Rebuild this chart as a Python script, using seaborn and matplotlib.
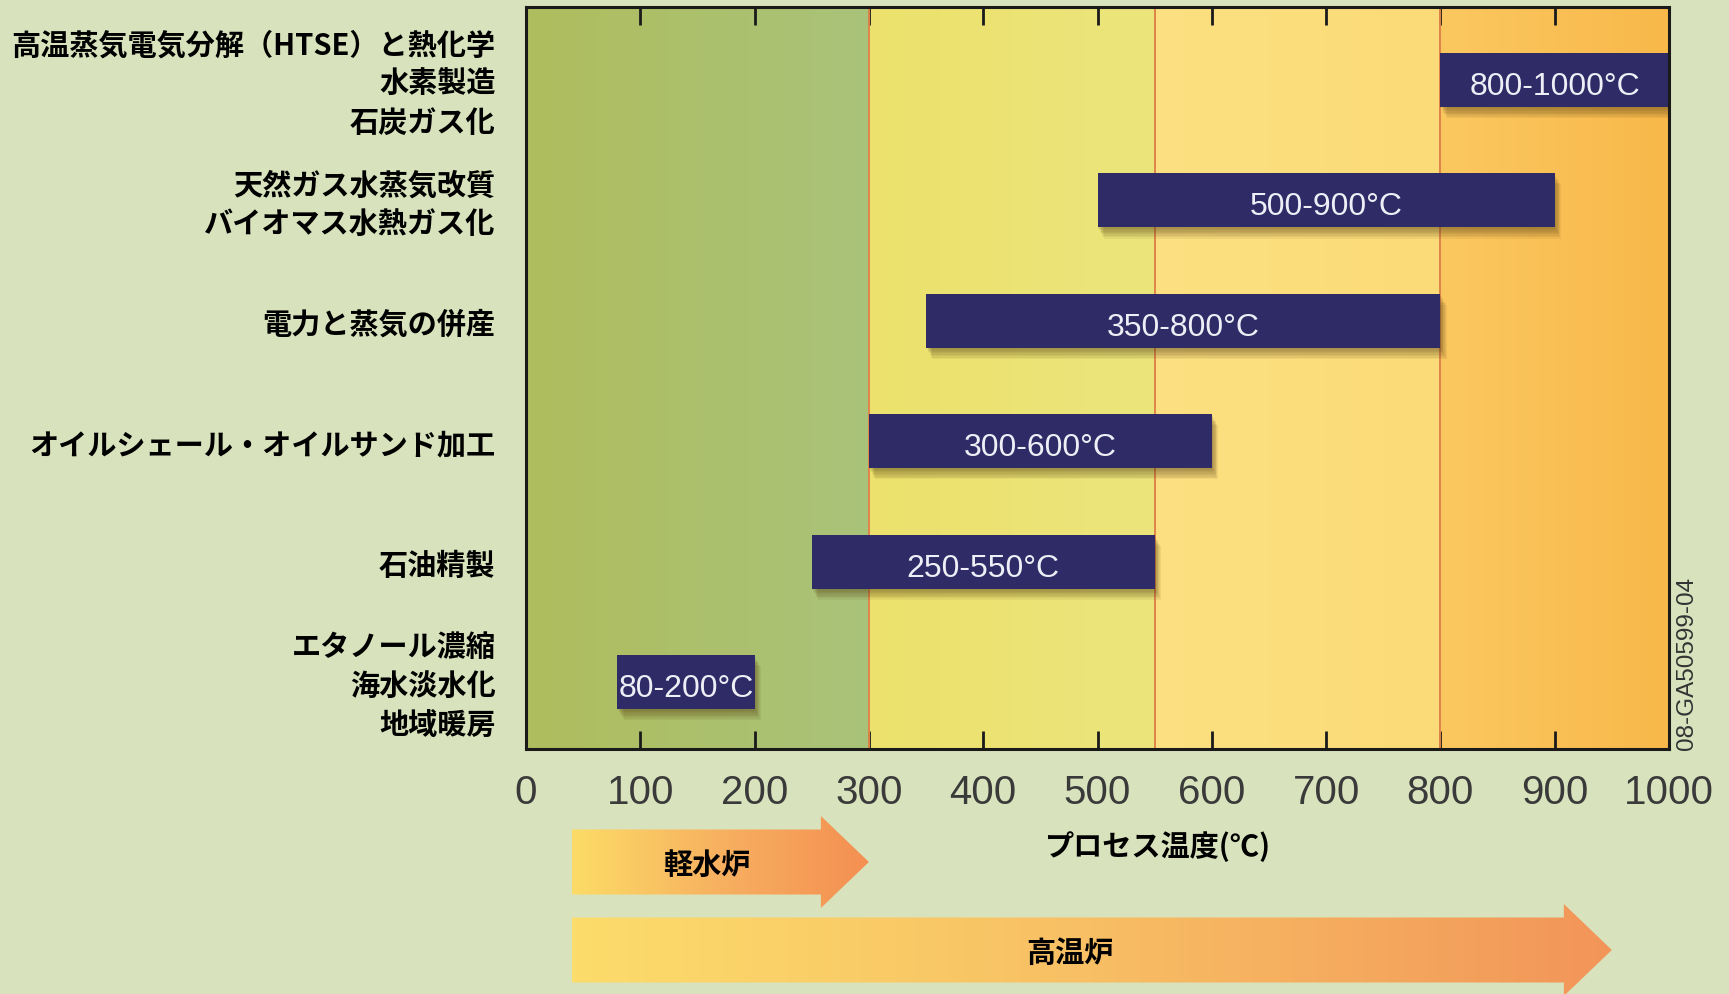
import numpy as np
import pandas as pd
import matplotlib
matplotlib.use("Agg")
import matplotlib.pyplot as plt
import matplotlib.patheffects as pe
import matplotlib.transforms as mtransforms
from matplotlib import font_manager as fm
from matplotlib.colors import LinearSegmentedColormap, to_rgb
from matplotlib.patches import Polygon
import seaborn as sns

# Process-heat applications and their temperature ranges (°C)
applications = [
    "高温蒸気電気分解（HTSE）と熱化学\n水素製造\n石炭ガス化",
    "天然ガス水蒸気改質\nバイオマス水熱ガス化",
    "電力と蒸気の併産",
    "オイルシェール・オイルサンド加工",
    "石油精製",
    "エタノール濃縮\n海水淡水化\n地域暖房",
]
temp_low = [800, 500, 350, 300, 250, 80]
temp_high = [1000, 900, 800, 600, 550, 200]

# Temperature reach of each reactor type (°C)
reactors = ["軽水炉", "高温炉"]
reactor_low = [40, 40]
reactor_high = [300, 950]

# Background temperature bands
band_edges = [0, 300, 550, 800, 1000]
band_colors = [
    ("#afbd5d", "#a9c37a"),
    ("#ebe16c", "#ece57c"),
    ("#fbe081", "#fcdb77"),
    ("#fbc860", "#f8b84a"),
]

x_ticks = list(range(0, 1001, 100))
x_label = "プロセス温度(℃)"
figure_code = "08-GA50599-04"

BG = "#d8e3bd"
BAR = "#2e2b66"
W, H = 1729, 994

sns.set_theme(style="white")
plt.rcParams["font.family"] = ["Noto Sans CJK JP", "DejaVu Sans"]


def has_font(name):
    try:
        fm.findfont(fm.FontProperties(family=name), fallback_to_default=False)
        return True
    except ValueError:
        return False


if has_font("Liberation Sans Narrow"):
    tick_family, tick_size = "Liberation Sans Narrow", 34
else:
    tick_family, tick_size = "Liberation Sans", 29

fig = plt.figure(figsize=(W / 100, H / 100), dpi=100, facecolor=BG)
ax = fig.add_axes([526 / W, 1 - 749 / H, 1143 / W, 742 / H])
ax.set_facecolor(BG)

y_lo, y_hi = 5.556, -0.606

# coloured temperature bands behind the bars
for x0, x1, (c0, c1) in zip(band_edges[:-1], band_edges[1:], band_colors):
    t = np.linspace(0, 1, 128)[None, :, None]
    grad = (1 - t) * np.array(to_rgb(c0)) + t * np.array(to_rgb(c1))
    ax.imshow(grad, extent=(x0, x1, y_lo, y_hi), aspect="auto",
              interpolation="bilinear", zorder=0)
for x in band_edges[1:-1]:
    ax.axvline(x, color="#e0844a", lw=1.4, zorder=1)

# range bars
df = pd.DataFrame({"用途": applications, "下限": temp_low, "上限": temp_high})
df["幅"] = df["上限"] - df["下限"]
sns.barplot(data=df, x="幅", y="用途", orient="y", left=df["下限"].to_numpy(),
            color=BAR, saturation=1, width=0.45, errorbar=None, ax=ax,
            linewidth=0, edgecolor="none", zorder=3)

# soft drop shadow under each bar
shadow = [pe.SimplePatchShadow(offset=(0.55 * d, -d), shadow_rgbFace="#5a4418", alpha=0.08)
          for d in np.arange(1.0, 8.5, 1.0)]
for bar in ax.patches:
    bar.set_path_effects(shadow + [pe.Normal()])

for i, (lo, hi) in enumerate(zip(temp_low, temp_high)):
    ax.text((lo + hi) / 2, i + 0.03, f"{lo}-{hi}°C", ha="center", va="center_baseline",
            color="#eeeef6", fontsize=23, family=["Liberation Sans", "DejaVu Sans"],
            zorder=4)

ax.set_xlim(0, 1000)
ax.set_ylim(y_lo, y_hi)
ax.set_xticks(x_ticks)
ax.set_xticklabels([str(t) for t in x_ticks], family=tick_family)
ax.tick_params(axis="x", direction="in", top=True, bottom=True, length=13, width=2,
               color="#1a1a1a", pad=18, labelsize=tick_size, labelcolor="#3a3a3a")
ax.set_yticks(range(len(applications)), labels=applications, va="center",
              fontsize=21, fontweight="bold", color="black", linespacing=1.37)
ax.tick_params(axis="y", length=0, pad=22)
nudge = mtransforms.ScaledTranslation(0, -3 / 72, fig.dpi_scale_trans)
for lab in ax.get_yticklabels():
    lab.set_transform(lab.get_transform() + nudge)
ax.set_xlabel("")
ax.set_ylabel("")
ax.grid(False)
for sp in ax.spines.values():
    sp.set_visible(True)
    sp.set_color("#1a1a1a")
    sp.set_linewidth(2.2)
    sp.set_zorder(5)

fig.text(1158 / W, 1 - 847 / H, x_label, ha="center", va="center",
         fontsize=21, fontweight="bold", color="black")
fig.text(1687 / W, 1 - 750 / H, figure_code, rotation=90, ha="center", va="bottom",
         fontsize=17.5, color="#333333", family=["Liberation Sans", "DejaVu Sans"])

# reactor arrows sharing the temperature scale
arr_h = 181
aax = fig.add_axes([526 / W, 0, 1143 / W, arr_h / H])
aax.axis("off")
arrow_rows = [132, 44]
arrow_cols = [["#fcdc66", "#f7b060", "#f48f52"], ["#fcdc6b", "#f8bf64", "#f29559"]]
label_x = [158, 476]
body, head, head_len = 32.5, 46, 42
for name, lo, hi, yc, cols, lx in zip(reactors, reactor_low, reactor_high,
                                       arrow_rows, arrow_cols, label_x):
    hb = hi - head_len
    verts = [(lo, yc - body), (hb, yc - body), (hb, yc - head), (hi, yc),
             (hb, yc + head), (hb, yc + body), (lo, yc + body)]
    poly = Polygon(verts, closed=True, facecolor="none", edgecolor="none")
    aax.add_patch(poly)
    cmap = LinearSegmentedColormap.from_list(name, cols)
    im = aax.imshow(np.linspace(0, 1, 256)[None, :], cmap=cmap,
                    extent=(lo, hi, yc - head, yc + head), aspect="auto", zorder=1)
    im.set_clip_path(poly)
    aax.text(lx, yc - 3, name, ha="center", va="center", fontsize=21,
             fontweight="bold", color="black", zorder=2)
aax.set_xlim(0, 1000)
aax.set_ylim(0, arr_h)

fig.savefig("out.png", dpi=100, facecolor=BG)
